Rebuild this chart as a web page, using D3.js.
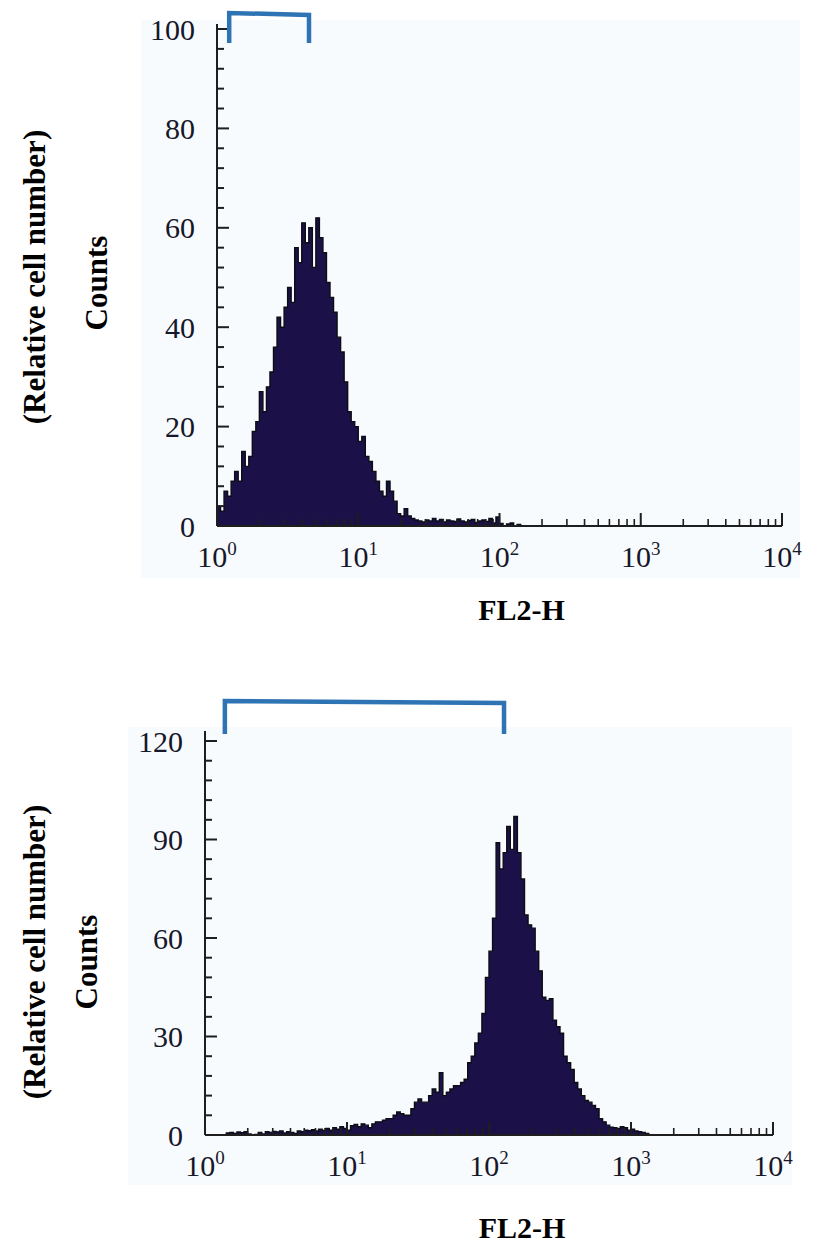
<!DOCTYPE html>
<html>
<head>
<meta charset="utf-8">
<script src="https://cdn.jsdelivr.net/npm/d3@7"></script>
<style>
  html, body { margin: 0; padding: 0; background: #ffffff; }
  svg { display: block; }
</style>
</head>
<body>
<svg id="fig" width="819" height="1245"></svg>
<script>
// FL2-H histograms, 40 channels per decade starting at 10^0
const binsPerDecade = 40;

// Upper histogram: counts per channel
const upperCounts = [
  4, 3, 7, 6, 9, 11, 9, 15, 12, 14,
  19, 21, 27, 23, 28, 31, 36, 42, 40, 44,
  48, 45, 56, 53, 61, 57, 60, 52, 62, 58,
  55, 49, 46, 43, 38, 35, 29, 23, 21, 20,
  17, 18, 14, 13, 11, 9, 7, 6, 9, 7,
  5, 2.5, 2, 3.5, 2, 1.5, 1.2, 1, 0.8, 1.2,
  1, 1.5, 1, 1.3, 0.8, 1.2, 1, 0.9, 1.4, 1,
  0.8, 1.1, 1.3, 0.7, 1, 1.2, 0.9, 1.5, 0.6, 1.8,
  0.5, 0, 0.4, 0.6, 0, 0.3, 0, 0, 0
];

// Lower histogram: counts per channel
const lowerCounts = [
  0, 0, 0, 0, 0, 0, 0.6, 0.8, 0.5, 0.9,
  0.7, 1.0, 0.3, 0, 0.2, 0.8, 0.3, 1.0, 0.8, 1.1,
  0.9, 1.2, 0.6, 1.0, 0.8, 0.5, 1.2, 1.0, 1.5, 1.3,
  1.6, 1.2, 1.8, 1.4, 2.0, 1.5, 2.2, 1.8, 2.5, 2.0,
  1.5, 2.8, 3.2, 2.5, 3.4, 3.0, 2.2, 3.4, 4.0, 4,
  4.5, 5, 5, 6, 7, 6.5, 6, 6, 8, 10,
  11, 10, 10, 12, 14, 13, 19, 12, 13, 14,
  15, 15, 16, 17, 22, 24, 28, 31, 37, 48,
  56, 66, 89, 81, 86, 94, 87, 97, 86, 78,
  67, 64, 63, 56, 50, 42, 41, 41.5, 35, 33,
  31, 24, 22, 20, 16, 14, 12, 10.5, 10, 9,
  8, 5, 4, 3, 2.4, 2.2, 2, 2.5, 2.2, 1.5,
  1.8, 1.2, 1, 0.8, 0.5, 0
];

// Axis ticks
const xDecades = [0, 1, 2, 3, 4];
const upperYTicks = [0, 20, 40, 60, 80, 100];
const lowerYTicks = [0, 30, 60, 90, 120];
const upperYMinor = 4;
const lowerYMinor = 6;

// Gate (marker) ranges on FL2-H
const upperGate = [1.22, 4.48];
const lowerGate = [1.38, 127.6];

const xTitle = "FL2-H";
const yTitle1 = "(Relative cell number)";
const yTitle2 = "Counts";

const svg = d3.select("#fig");
const tickFont = "'Liberation Serif', 'Times New Roman', serif";
const inkColor = "#17172a";

function drawPanel(cfg) {
  const g = svg.append("g");

  // background of the cytometer plot
  g.append("rect")
    .attr("x", cfg.panel[0]).attr("y", cfg.panel[1])
    .attr("width", cfg.panel[2]).attr("height", cfg.panel[3])
    .attr("fill", "#f8fbfd");

  const x = d3.scaleLog().domain([1, 1e4]).range([cfg.x0, cfg.x1]);
  const y = d3.scaleLinear().domain([0, cfg.ymax]).range([cfg.y0, cfg.yTop]);

  // histogram as stepped area
  const pts = cfg.counts.map((c, i) => ({ lo: Math.pow(10, i / binsPerDecade), c }));
  pts.push({ lo: Math.pow(10, cfg.counts.length / binsPerDecade), c: cfg.counts[cfg.counts.length - 1] });

  const area = d3.area()
    .x(d => x(d.lo)).y0(y(0)).y1(d => y(d.c))
    .curve(d3.curveStepAfter);
  const line = d3.line()
    .x(d => x(d.lo)).y(d => y(d.c))
    .curve(d3.curveStepAfter);

  g.append("path").attr("d", area(pts)).attr("fill", "#1b1148");
  g.append("path").attr("d", line(pts))
    .attr("fill", "none").attr("stroke", "#0c0c14").attr("stroke-width", 1.4)
    .attr("stroke-linejoin", "miter");

  const axisColor = "#1e1e1e";

  // y axis line
  g.append("line")
    .attr("x1", cfg.x0).attr("x2", cfg.x0)
    .attr("y1", cfg.yTop - cfg.axisOver).attr("y2", cfg.y0)
    .attr("stroke", axisColor).attr("stroke-width", 2);

  // y ticks, pointing into the plot
  const yMinorVals = d3.range(0, cfg.ymax + 0.001, cfg.yMinor);
  g.selectAll(null).data(yMinorVals).enter().append("line")
    .attr("x1", cfg.x0).attr("x2", d => cfg.x0 + (cfg.yTicks.includes(d) ? 12 : 7))
    .attr("y1", d => y(d)).attr("y2", d => y(d))
    .attr("stroke", axisColor).attr("stroke-width", 2);

  g.selectAll(null).data(cfg.yTicks).enter().append("text")
    .attr("x", cfg.x0 - 22).attr("y", d => y(d))
    .attr("dy", "0.35em")
    .attr("text-anchor", "end")
    .attr("font-family", tickFont).attr("font-size", 30)
    .attr("fill", inkColor)
    .text(d => d);

  // x axis line
  g.append("line")
    .attr("x1", cfg.x0).attr("x2", cfg.x1)
    .attr("y1", cfg.y0).attr("y2", cfg.y0)
    .attr("stroke", axisColor).attr("stroke-width", 2);

  // x ticks: decades and 2..9 sub-ticks, pointing up
  const xMinorVals = [];
  for (let k = 0; k < 4; k++) for (let m = 2; m <= 9; m++) xMinorVals.push(m * Math.pow(10, k));
  g.selectAll(null).data(xMinorVals).enter().append("line")
    .attr("x1", d => x(d)).attr("x2", d => x(d))
    .attr("y1", cfg.y0).attr("y2", cfg.y0 - 7)
    .attr("stroke", axisColor).attr("stroke-width", 1.6);
  g.selectAll(null).data(xDecades).enter().append("line")
    .attr("x1", d => x(Math.pow(10, d))).attr("x2", d => x(Math.pow(10, d)))
    .attr("y1", cfg.y0).attr("y2", cfg.y0 - 13)
    .attr("stroke", axisColor).attr("stroke-width", 2);

  const xl = g.selectAll(null).data(xDecades).enter().append("text")
    .attr("x", d => x(Math.pow(10, d)))
    .attr("y", cfg.y0 + 41)
    .attr("text-anchor", "middle")
    .attr("font-family", tickFont).attr("font-size", 30)
    .attr("fill", inkColor);
  xl.append("tspan").text("10");
  xl.append("tspan").attr("font-size", 19).attr("dy", -12).text(d => d);

  // gate marker bracket
  const gx0 = x(cfg.gate[0]), gx1 = x(cfg.gate[1]);
  g.append("path")
    .attr("d", d3.line()([
      [gx0, cfg.gateBottom], [gx0, cfg.gateTop],
      [gx1, cfg.gateTop + 2], [gx1, cfg.gateBottom]
    ]))
    .attr("fill", "none").attr("stroke", "#2e74b5").attr("stroke-width", 4.5)
    .attr("stroke-linejoin", "miter");

  // axis titles
  g.append("text")
    .attr("x", (cfg.x0 + cfg.x1) / 2 + cfg.xTitleShift).attr("y", cfg.xTitleY)
    .attr("text-anchor", "middle")
    .attr("font-family", tickFont).attr("font-weight", "bold").attr("font-size", 30)
    .attr("fill", "#000")
    .text(xTitle);

  g.append("text")
    .attr("transform", `translate(${cfg.yTitle1X},${cfg.yTitle1Y}) rotate(-90)`)
    .attr("text-anchor", "middle")
    .attr("font-family", tickFont).attr("font-weight", "bold").attr("font-size", 31)
    .attr("fill", "#000")
    .text(yTitle1);
  g.append("text")
    .attr("transform", `translate(${cfg.yTitle2X},${cfg.yTitle2Y}) rotate(-90)`)
    .attr("text-anchor", "middle")
    .attr("font-family", tickFont).attr("font-weight", "bold").attr("font-size", 31)
    .attr("fill", "#000")
    .text(yTitle2);
}

drawPanel({
  panel: [141, 20, 659, 558],
  counts: upperCounts,
  x0: 217, x1: 782, y0: 526, yTop: 29, ymax: 100, axisOver: 5,
  yTicks: upperYTicks, yMinor: upperYMinor,
  gate: upperGate, gateTop: 13, gateBottom: 43,
  xTitleY: 620, xTitleShift: 22,
  yTitle1X: 45, yTitle1Y: 277,
  yTitle2X: 107, yTitle2Y: 283
});

drawPanel({
  panel: [128, 727, 664, 458],
  counts: lowerCounts,
  x0: 205, x1: 773, y0: 1135, yTop: 741, ymax: 120, axisOver: 10,
  yTicks: lowerYTicks, yMinor: lowerYMinor,
  gate: lowerGate, gateTop: 701, gateBottom: 734,
  xTitleY: 1238, xTitleShift: 33,
  yTitle1X: 45, yTitle1Y: 952,
  yTitle2X: 97, yTitle2Y: 962
});
</script>
</body>
</html>
